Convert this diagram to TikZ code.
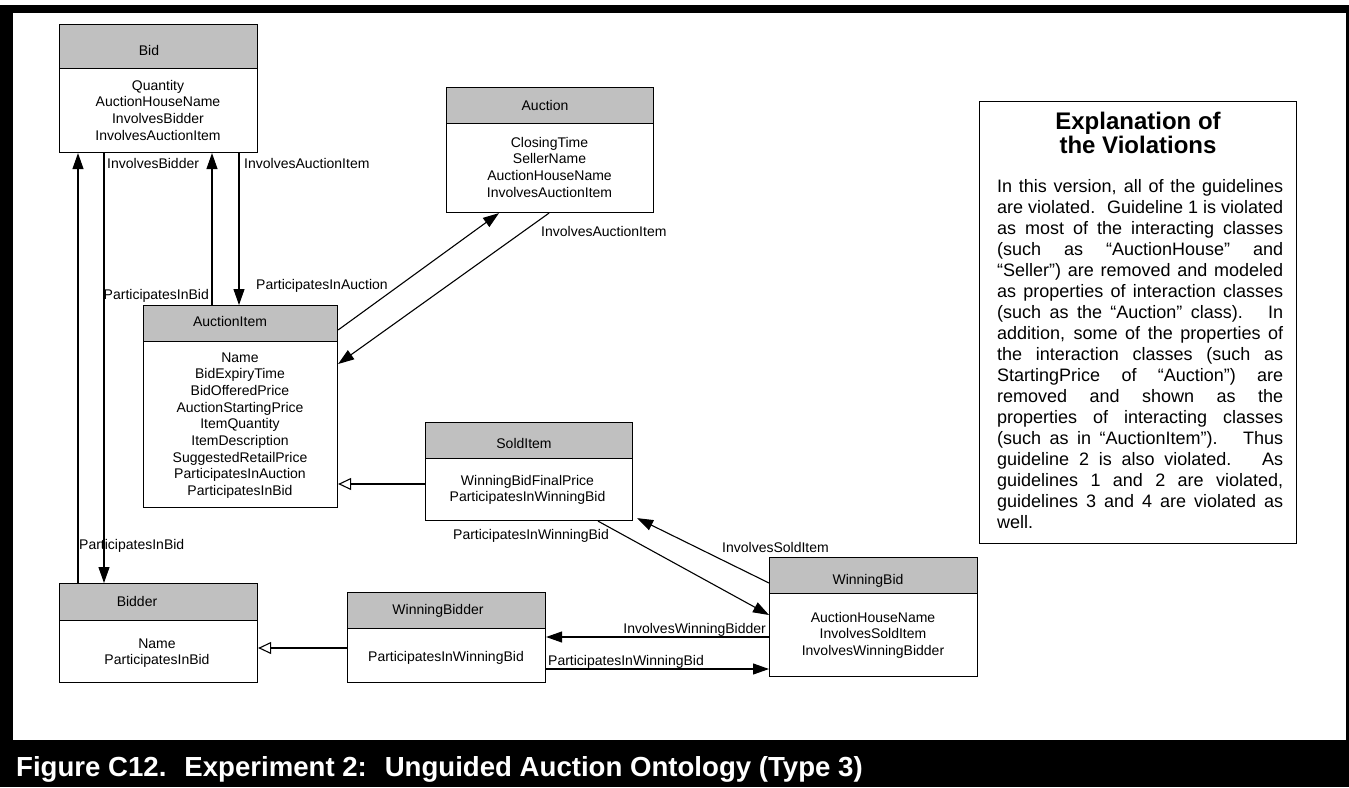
\documentclass[tikz,border=0pt]{standalone}
\usepackage{fontspec}
\setmainfont{Liberation Sans}
\usetikzlibrary{arrows.meta,calc}
\definecolor{headgray}{RGB}{192,192,192}
\begin{document}
\begin{tikzpicture}[x=1pt,y=-1pt,
  cls/.style={draw=black, line width=1.1pt, fill=white, inner sep=0, anchor=north west},
  hdr/.style={draw=black, line width=1.1pt, fill=headgray, inner sep=0, anchor=north west},
  txt/.style={inner sep=0, anchor=base, font=\fontsize{14}{16.7}\selectfont},
  lab/.style={inner sep=0, anchor=base west, font=\fontsize{14}{16.7}\selectfont},
  labr/.style={inner sep=0, anchor=base east, font=\fontsize{14}{16.7}\selectfont},
  conn/.style={line width=1.1pt, -{Triangle[length=16pt,width=11pt]}},
  isa/.style={line width=1.1pt, -{Triangle[open,length=13pt,width=12pt,fill=white]}},
]
\useasboundingbox (0,0) rectangle (1349,787);
% page frame
\fill[white] (0,0) rectangle (1349,787);
\fill[black] (0,5) rectangle (1349,787);
\fill[white] (13,13) rectangle (1346,740);
\node[anchor=base west, inner sep=0, text=white, font=\bfseries\fontsize{27.6}{30}\selectfont] (caption) at (16,776)
  {Figure C12.~ Experiment 2:~ Unguided Auction Ontology (Type 3)};

% ---------- classes ----------
% Bid
\node[cls, minimum width=198pt, minimum height=128pt] (bid) at (59,24) {};
\node[hdr, minimum width=198pt, minimum height=44pt] (bidH) at (59,24) {};
\node[txt] (bidT) at (149,55) {Bid};
\node[txt] (bidB) at (158,90) {\parbox[t]{190pt}{\centering Quantity\\AuctionHouseName\\InvolvesBidder\\InvolvesAuctionItem}};

% Auction
\node[cls, minimum width=207pt, minimum height=125pt] (auc) at (446,87) {};
\node[hdr, minimum width=207pt, minimum height=36pt] (aucH) at (446,87) {};
\node[txt] (aucT) at (545,110) {Auction};
\node[txt] (aucB) at (549.5,147) {\parbox[t]{200pt}{\centering ClosingTime\\SellerName\\AuctionHouseName\\InvolvesAuctionItem}};

% AuctionItem
\node[cls, minimum width=194pt, minimum height=202pt] (item) at (143,305) {};
\node[hdr, minimum width=194pt, minimum height=36pt] (itemH) at (143,305) {};
\node[txt] (itemT) at (230,326) {AuctionItem};
\node[txt] (itemB) at (240,362) {\parbox[t]{190pt}{\centering Name\\BidExpiryTime\\BidOfferedPrice\\AuctionStartingPrice\\ItemQuantity\\ItemDescription\\SuggestedRetailPrice\\ParticipatesInAuction\\ParticipatesInBid}};

% SoldItem
\node[cls, minimum width=207pt, minimum height=98pt] (sold) at (425,422) {};
\node[hdr, minimum width=207pt, minimum height=36pt] (soldH) at (425,422) {};
\node[txt] (soldT) at (524,448) {SoldItem};
\node[txt] (soldB) at (527.5,485) {\parbox[t]{200pt}{\centering WinningBidFinalPrice\\ParticipatesInWinningBid}};

% WinningBid
\node[cls, minimum width=208pt, minimum height=119pt] (wbid) at (769,557) {};
\node[hdr, minimum width=208pt, minimum height=36pt] (wbidH) at (769,557) {};
\node[txt] (wbidT) at (868,584) {WinningBid};
\node[txt] (wbidB) at (873,622) {\parbox[t]{200pt}{\centering AuctionHouseName\\InvolvesSoldItem\\InvolvesWinningBidder}};

% Bidder
\node[cls, minimum width=198pt, minimum height=99pt] (bidder) at (59,583) {};
\node[hdr, minimum width=198pt, minimum height=37pt] (bidderH) at (59,583) {};
\node[txt] (bidderT) at (137,606) {Bidder};
\node[txt] (bidderB) at (157,648) {\parbox[t]{190pt}{\centering Name\\ParticipatesInBid}};

% WinningBidder
\node[cls, minimum width=198pt, minimum height=90pt] (wbidder) at (347,592) {};
\node[hdr, minimum width=198pt, minimum height=36pt] (wbidderH) at (347,592) {};
\node[txt] (wbidderT) at (438,614) {WinningBidder};
\node[txt] (wbidderB) at (446,661) {ParticipatesInWinningBid};

% ---------- associations ----------
\draw[conn] ($(bidder.north west)+(19,0)$) -- ($(bid.south west)+(19,0)$);
\draw[conn] ($(bid.south west)+(45,0)$) -- ($(bidder.north west)+(45,0)$);
\draw[conn] ($(item.north west)+(69,0)$) -- ($(bid.south west)+(153,0)$);
\draw[conn] ($(bid.south west)+(180,0)$) -- ($(item.north west)+(96,0)$);
\draw[conn] ($(item.north east)+(0,25)$) -- ($(auc.south west)+(53,0)$);
\draw[conn] ($(auc.south west)+(103,0)$) -- ($(item.north east)+(0,59)$);
\draw[conn] ($(sold.south west)+(173,0)$) -- ($(wbid.north west)+(0,58)$);
\draw[conn] ($(wbid.north west)+(0,26)$) -- ($(sold.south east)+(4,-3)$);
\draw[conn] ($(wbid.north west)+(0,80)$) -- ($(wbidder.north east)+(0,45)$);
\draw[conn] ($(wbidder.north east)+(0,77)$) -- ($(wbid.north west)+(0,112)$);

% ---------- generalisations ----------
\draw[isa] ($(sold.north west)+(0,62)$) -- ($(item.north east)+(0,179)$);
\draw[isa] ($(wbidder.north west)+(0,56)$) -- ($(bidder.north east)+(0,65)$);

% ---------- role labels ----------
\node[lab] (l1) at (107,168) {InvolvesBidder};
\node[lab] (l2) at (244,168) {InvolvesAuctionItem};
\node[labr] (l3) at (209,299) {ParticipatesInBid};
\node[lab] (l4) at (256,289) {ParticipatesInAuction};
\node[lab] (l5) at (541,236) {InvolvesAuctionItem};
\node[lab] (l6) at (453,539) {ParticipatesInWinningBid};
\node[lab] (l7) at (722,552) {InvolvesSoldItem};
\node[labr] (l8) at (766,633) {InvolvesWinningBidder};
\node[lab] (l9) at (548,665) {ParticipatesInWinningBid};
\node[lab] (l10) at (79,549) {ParticipatesInBid};

% ---------- explanation panel ----------
\node[draw=black, line width=1.4pt, fill=white, inner sep=0, anchor=north west,
      minimum width=317pt, minimum height=442pt] (expl) at (979,101) {};
\node[inner sep=0, anchor=base, font=\bfseries\fontsize{24}{25}\selectfont] (explT1) at (1138,129) {Explanation of};
\node[inner sep=0, anchor=base, font=\bfseries\fontsize{24}{25}\selectfont] (explT2) at (1138,153) {the Violations};
\node[inner sep=0, anchor=base west, font=\fontsize{18}{21}\selectfont] (explB) at (997,192) {\parbox[t]{286pt}{%
\makebox[286pt][s]{In this version, all of the guidelines}\\
\makebox[286pt][s]{are violated.~ Guideline 1 is violated}\\
\makebox[286pt][s]{as most of the interacting classes}\\
\makebox[286pt][s]{(such as “AuctionHouse” and}\\
\makebox[286pt][s]{“Seller”) are removed and modeled}\\
\makebox[286pt][s]{as properties of interaction classes}\\
\makebox[286pt][s]{(such as the “Auction” class).~ In}\\
\makebox[286pt][s]{addition, some of the properties of}\\
\makebox[286pt][s]{the interaction classes (such as}\\
\makebox[286pt][s]{StartingPrice of “Auction”) are}\\
\makebox[286pt][s]{removed and shown as the}\\
\makebox[286pt][s]{properties of interacting classes}\\
\makebox[286pt][s]{(such as in “AuctionItem”).~ Thus}\\
\makebox[286pt][s]{guideline 2 is also violated.~ As}\\
\makebox[286pt][s]{guidelines 1 and 2 are violated,}\\
\makebox[286pt][s]{guidelines 3 and 4 are violated as}\\
well.}};
\end{tikzpicture}
\end{document}
